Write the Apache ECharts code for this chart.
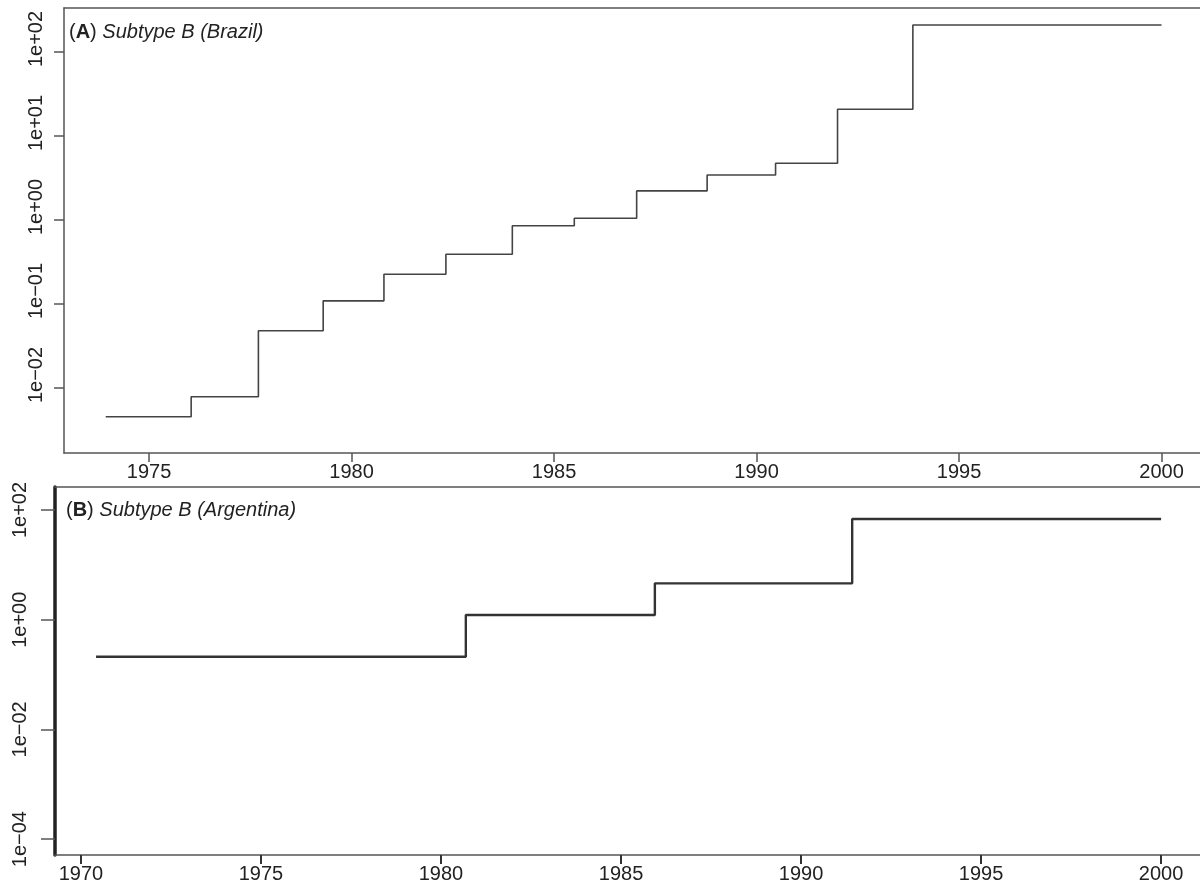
<!DOCTYPE html>
<html>
<head>
<meta charset="utf-8">
<script src="https://cdn.jsdelivr.net/npm/echarts@6/dist/echarts.min.js"></script>
<style>
  html, body { margin: 0; padding: 0; background: #fff; }
  #chart { width: 1200px; height: 884px; }
</style>
</head>
<body>
<div id="chart"></div>
<script>
// Panel A: Subtype B (Brazil) - step change points (year, value)
const brazilYears = [1973.93, 1976.04, 1977.70, 1979.30, 1980.80, 1982.33, 1983.97, 1985.50, 1987.04, 1988.78, 1990.47, 1992.00, 1993.86, 2000];
const brazilValues = [0.00455, 0.00787, 0.0481, 0.109, 0.226, 0.391, 0.855, 1.05, 2.22, 3.43, 4.73, 20.8, 210, 210];

// Panel B: Subtype B (Argentina)
const argYears = [1970.42, 1980.69, 1985.94, 1991.42, 2000];
const argValues = [0.211, 1.22, 4.60, 68.5, 68.5];

// tick labels
const brazilXTicks = [1975, 1980, 1985, 1990, 1995, 2000];
const argXTicks = [1970, 1975, 1980, 1985, 1990, 1995, 2000];
const brazilYTicks = [-2, -1, 0, 1, 2];   // powers of ten
const argYTicks = [-4, -2, 0, 2];

const FONT = '"Liberation Sans", Arial, Helvetica, sans-serif';
const TXT = '#222';
const BOX = '#555';

// log axis drawn as value axis on log10 values, labelled like R's 1e+02
const sciLabel = v => {
    const e = Math.round(v);
    return '1e' + (e < 0 ? '\u2212' : '+') + String(Math.abs(e)).padStart(2, '0');
};

const toPairs = (xs, ys) => xs.map((x, i) => [x, Math.log10(ys[i])]);

const titleStyle = {
    fontFamily: FONT, fontSize: 20, fontWeight: 'normal', color: TXT,
    rich: {
        b: { fontFamily: FONT, fontSize: 20, fontWeight: 'bold', color: TXT },
        i: { fontFamily: FONT, fontSize: 20, fontStyle: 'italic', color: TXT }
    }
};

// the top edge of each panel box (plot is cut off at the right)
const topEdge = (grid, min, max) => ({
    type: 'value', gridIndex: grid, position: 'top', min: min, max: max,
    splitLine: { show: false },
    axisLine: { show: true, onZero: false, lineStyle: { color: BOX, width: 1.5 } },
    axisTick: { show: false },
    axisLabel: { show: false }
});

const chart = echarts.init(document.getElementById('chart'));

const option = {
    animation: false,
    backgroundColor: '#fff',
    title: [
        { left: 64, top: 17, text: '({b|A}) {i|Subtype B (Brazil)}', textStyle: titleStyle },
        { left: 61, top: 495, text: '({b|B}) {i|Subtype B (Argentina)}', textStyle: titleStyle }
    ],
    grid: [
        { left: 64, top: 8, right: 0, height: 445 },
        { left: 55, top: 487, right: 0, height: 368 }
    ],
    xAxis: [
        {
            type: 'value', gridIndex: 0, min: 1972.90, max: 2000.95,
            splitLine: { show: false },
            axisLine: { show: true, onZero: false, lineStyle: { color: BOX, width: 1.5 } },
            axisTick: { show: true, length: 9, customValues: brazilXTicks, lineStyle: { color: BOX, width: 1.5 } },
            axisLabel: { customValues: brazilXTicks, margin: 9, fontFamily: FONT, fontSize: 20, color: TXT, formatter: v => String(v) }
        },
        {
            type: 'value', gridIndex: 1, min: 1969.28, max: 2001.08,
            splitLine: { show: false },
            axisLine: { show: true, onZero: false, lineStyle: { color: BOX, width: 1.5 } },
            axisTick: { show: true, length: 9, customValues: argXTicks, lineStyle: { color: '#333', width: 2 } },
            axisLabel: { customValues: argXTicks, margin: 9, fontFamily: FONT, fontSize: 20, color: TXT, formatter: v => String(v) }
        },
        topEdge(0, 1972.90, 2000.95),
        topEdge(1, 1969.28, 2001.08)
    ],
    yAxis: [
        {
            type: 'value', gridIndex: 0, min: -2.774, max: 2.524,
            splitLine: { show: false },
            axisLine: { show: true, onZero: false, lineStyle: { color: BOX, width: 1.5 } },
            axisTick: { show: true, length: 10, customValues: brazilYTicks, lineStyle: { color: BOX, width: 1.5 } },
            axisLabel: {
                customValues: brazilYTicks, rotate: 90, margin: 18,
                padding: [0, 0, 0, 26],
                fontFamily: FONT, fontSize: 20, color: TXT, formatter: sciLabel
            }
        },
        {
            type: 'value', gridIndex: 1, min: -4.29, max: 2.42,
            splitLine: { show: false },
            axisLine: { show: true, onZero: false, lineStyle: { color: '#222', width: 3.5 } },
            axisTick: { show: true, length: 14, customValues: argYTicks, lineStyle: { color: BOX, width: 1.5 } },
            axisLabel: {
                customValues: argYTicks, rotate: 90, margin: 25,
                fontFamily: FONT, fontSize: 20, color: TXT, formatter: sciLabel
            }
        }
    ],
    series: [
        {
            name: 'Brazil', type: 'line', step: 'end', xAxisIndex: 0, yAxisIndex: 0,
            data: toPairs(brazilYears, brazilValues),
            symbol: 'none',
            lineStyle: { color: '#444', width: 1.6 }
        },
        {
            name: 'Argentina', type: 'line', step: 'end', xAxisIndex: 1, yAxisIndex: 1,
            data: toPairs(argYears, argValues),
            symbol: 'none',
            lineStyle: { color: '#333', width: 2.4 }
        }
    ]
};

chart.setOption(option);
</script>
</body>
</html>
